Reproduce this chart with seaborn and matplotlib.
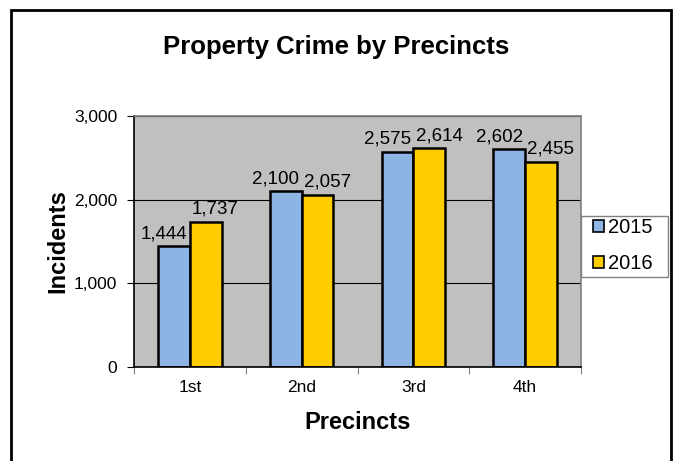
import pandas as pd
import matplotlib.pyplot as plt
import seaborn as sns
from matplotlib.patches import Rectangle
from matplotlib.ticker import FuncFormatter, FixedLocator

precincts = ["1st", "2nd", "3rd", "4th"]
years = ["2015", "2016"]
incidents_2015 = [1444, 2100, 2575, 2602]
incidents_2016 = [1737, 2057, 2614, 2455]

df = pd.DataFrame({
    "precinct": precincts * 2,
    "year": [years[0]] * 4 + [years[1]] * 4,
    "incidents": incidents_2015 + incidents_2016,
})

sns.set_theme(style="white")
plt.rcParams['font.family'] = ['Liberation Sans', 'DejaVu Sans']
plt.rcParams['text.color'] = 'black'
plt.rcParams['axes.labelcolor'] = 'black'
plt.rcParams['xtick.color'] = 'black'
plt.rcParams['ytick.color'] = 'black'

W, H = 673, 461
fig = plt.figure(figsize=(W / 100, H / 100), dpi=100)
ax = fig.add_axes([134 / W, 1 - 367 / H, (581 - 134) / W, (367 - 116) / H])

sns.barplot(data=df, x="precinct", y="incidents", hue="year",
            palette=["#8EB4E3", "#FFCC00"], width=0.57, gap=0,
            edgecolor="black", linewidth=1.8, saturation=1, ax=ax)

ax.set_facecolor("#C0C0C0")
ax.set_ylim(0, 3000)
ax.set_xlim(-0.5, 3.5)
ax.set_yticks([0, 1000, 2000, 3000])
ax.yaxis.set_major_formatter(FuncFormatter(lambda v, p: f"{int(v):,}"))
ax.grid(axis="y", color="black", linewidth=0.8)
ax.set_axisbelow(True)

# ticks at category boundaries, labels centred between them
ax.xaxis.set_major_locator(FixedLocator([-0.5, 0.5, 1.5, 2.5, 3.5]))
ax.xaxis.set_minor_locator(FixedLocator([0, 1, 2, 3]))
ax.xaxis.set_minor_formatter(FuncFormatter(lambda v, p: precincts[int(round(v))]))
ax.set_xticklabels([])
ax.tick_params(axis="x", which="major", length=5, width=0.8, color="#808080", direction="out", bottom=True)
ax.tick_params(axis="x", which="minor", length=0, labelsize=12.5, pad=9, colors="black")
ax.tick_params(axis="y", length=5, width=0.8, color="black", direction="out", left=True, labelsize=12.5, pad=7)

for side in ["top", "right"]:
    ax.spines[side].set_color("#808080")
    ax.spines[side].set_linewidth(1.2)
for side in ["left", "bottom"]:
    ax.spines[side].set_color("black")
    ax.spines[side].set_linewidth(1.2)

# data labels, nudged apart like Excel does
for c, dx in zip(ax.containers, [-7, 7]):
    texts = ax.bar_label(c, labels=[f"{int(v):,}" for v in c.datavalues], fontsize=13.5, padding=3)
    for t in texts:
        t.xyann = (dx, 3)

ax.set_xlabel("Precincts", fontsize=17, fontweight="bold", labelpad=12)
ax.set_ylabel("Incidents", fontsize=17, fontweight="bold", labelpad=3)

leg = ax.legend(loc="upper left", bbox_to_anchor=(593 / W, 1 - 218 / H), bbox_transform=fig.transFigure,
                frameon=False, fontsize=14.5, handlelength=0.55, handleheight=0.55, handletextpad=0.2,
                borderpad=0, labelspacing=0.85, borderaxespad=0)
for h in leg.legend_handles:
    h.set_linewidth(1.2)
# legend frame, Excel-style box
fig.patches.append(Rectangle((581 / W, 1 - 277 / H), (668 - 581) / W, (277 - 216) / H,
                             transform=fig.transFigure, facecolor="white", edgecolor="#808080",
                             linewidth=1, zorder=-1))

fig.text(336 / W, 1 - 47 / H, "Property Crime by Precincts", ha="center", va="center",
         fontsize=18.5, fontweight="bold")

fig.patches.append(Rectangle((11 / W, -0.05), (671 - 11) / W, 1.05 - 10 / H,
                             transform=fig.transFigure, fill=False, edgecolor="black",
                             linewidth=2, zorder=10))

fig.savefig("out.png", dpi=100)
